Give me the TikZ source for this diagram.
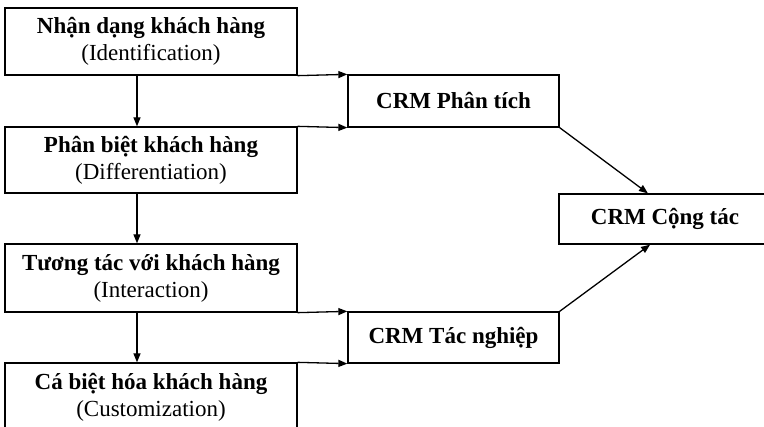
\documentclass[tikz,border=0pt]{standalone}
\usepackage{fontspec}
\setmainfont{Liberation Serif}
\usetikzlibrary{arrows.meta,calc}
\begin{document}
\begin{tikzpicture}[x=1pt,y=-1pt,
  box/.style={draw,line width=1.3pt,inner sep=0pt,align=center,
    font=\fontsize{23}{27}\selectfont},
  arr/.style={line width=1.3pt,-{Triangle[length=9pt,width=7pt]}}]
\useasboundingbox (0,0) rectangle (764,427);
\clip (0,0) rectangle (764,427);
\node[box,minimum width=292pt,minimum height=67pt] (b1) at (151,41.5)
  {\textbf{Nhận dạng khách hàng}\\(Identification)};
\node[box,minimum width=292pt,minimum height=66pt] (b2) at (151,160)
  {\textbf{Phân biệt khách hàng}\\(Differentiation)};
\node[box,minimum width=292pt,minimum height=68pt] (b3) at (151,278)
  {\textbf{Tương tác với khách hàng}\\(Interaction)};
\node[box,minimum width=292pt,minimum height=68pt] (b4) at (151,397)
  {\textbf{Cá biệt hóa khách hàng}\\(Customization)};
\node[box,minimum width=211pt,minimum height=52pt] (c1) at (453.5,101)
  {\textbf{CRM Phân tích}};
\node[box,minimum width=211pt,minimum height=51pt] (c2) at (453.5,337.5)
  {\textbf{CRM Tác nghiệp}};
\node[box,minimum width=212pt,minimum height=50pt] (c3) at (665,219)
  {\textbf{CRM Cộng tác}};
\coordinate (vx) at (137,0);
\draw[arr] (b1.south -| vx) -- (b2.north -| vx);
\draw[arr] (b2.south -| vx) -- (b3.north -| vx);
\draw[arr] (b3.south -| vx) -- (b4.north -| vx);
\draw[arr] (b1.south east) -- (c1.north west);
\draw[arr] (b2.north east) -- (c1.south west);
\draw[arr] (b3.south east) -- (c2.north west);
\draw[arr] (b4.north east) -- (c2.south west);
\draw[arr] (c1.south east) -- ($(c3.north west)!0.42!(c3.north east)$);
\draw[arr] (c2.north east) -- ($(c3.south west)!0.43!(c3.south east)$);
\end{tikzpicture}
\end{document}
